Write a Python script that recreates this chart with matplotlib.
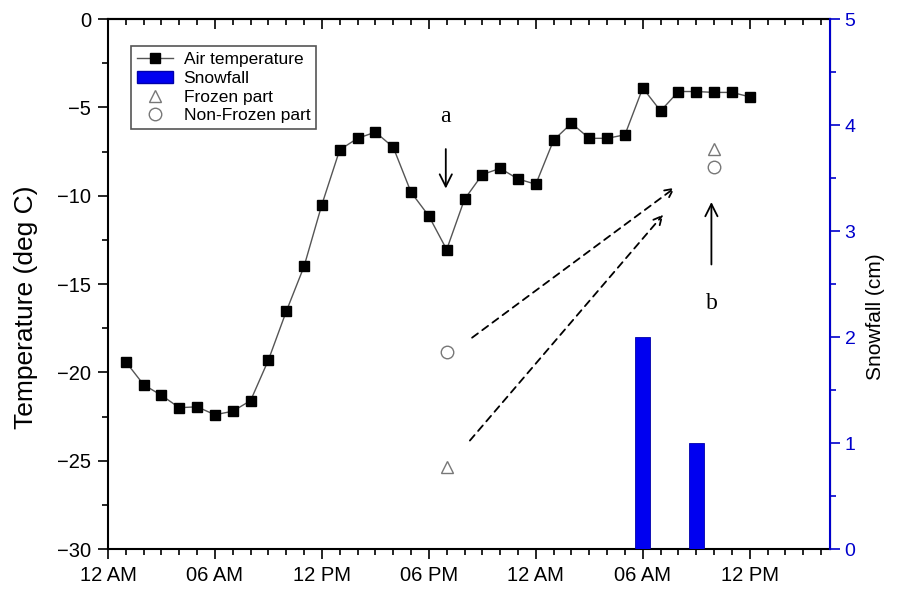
import matplotlib.pyplot as plt
from matplotlib.ticker import MultipleLocator
from matplotlib.lines import Line2D
from matplotlib.patches import Patch

plt.rcParams['font.family'] = ['Liberation Sans', 'DejaVu Sans']

# --- datos ---
horas = list(range(1, 37))
temp_aire = [-19.4, -20.7, -21.3, -22.0, -21.95, -22.4, -22.2, -21.6, -19.3, -16.55,
             -14.0, -10.5, -7.4, -6.75, -6.4, -7.25, -9.8, -11.15, -13.05, -10.2,
             -8.8, -8.45, -9.05, -9.35, -6.85, -5.9, -6.75, -6.75, -6.55, -3.9,
             -5.2, -4.1, -4.1, -4.15, -4.15, -4.4]

horas_nieve = [30, 33]
nieve = [2.0, 1.0]

horas_suelo = [19, 34]
congelada = [-25.35, -7.35]
no_congelada = [-18.85, -8.35]

xticks = [0, 6, 12, 18, 24, 30, 36]
xlabels = ['12 AM', '06 AM', '12 PM', '06 PM', '12 AM', '06 AM', '12 PM']

AZUL = '#0000cc'

fig = plt.figure(figsize=(8.99, 5.97), dpi=100)
ax = fig.add_axes([0.1201, 0.0804, 0.8031, 0.8876])
ax2 = ax.twinx()

ax.plot(horas, temp_aire, color='#555555', lw=1, marker='s', ms=7.5,
        mfc='black', mec='black', zorder=3)
ax.plot(horas_suelo, congelada, ls='none', marker='^', ms=8, mfc='white',
        mec='#777777', mew=1)
ax.plot(horas_suelo, no_congelada, ls='none', marker='o', ms=9, mfc='white',
        mec='#777777', mew=1)

ax2.bar(horas_nieve, nieve, width=0.82, color='#0000f0', edgecolor='#0000aa', lw=0.6)

ax.set_xlim(0, 40.5)
ax.set_ylim(-30, 0)
ax2.set_ylim(0, 5)

ax.set_xticks(xticks)
ax.set_xticklabels(xlabels)
ax.xaxis.set_minor_locator(MultipleLocator(1))
ax.yaxis.set_major_locator(MultipleLocator(5))
ax.yaxis.set_minor_locator(MultipleLocator(2.5))
ax2.yaxis.set_major_locator(MultipleLocator(1))
ax2.yaxis.set_minor_locator(MultipleLocator(0.5))

ax.tick_params(axis='both', which='major', labelsize=14.5, length=7, width=1.2,
               direction='out', pad=5)
ax.tick_params(axis='both', which='minor', length=4, width=1.2, direction='out')
ax.yaxis.set_tick_params(right=False)
ax2.tick_params(axis='y', which='major', labelsize=14, length=7, width=1.2,
                colors=AZUL, direction='out')
ax2.tick_params(axis='y', which='minor', length=4, width=1.2, colors=AZUL,
                direction='out')

# marcas hacia dentro en el borde superior
arriba = ax.secondary_xaxis('top')
arriba.set_xticks(xticks)
arriba.set_xticklabels([])
arriba.xaxis.set_minor_locator(MultipleLocator(1))
arriba.tick_params(which='major', direction='in', length=7, width=1.2)
arriba.tick_params(which='minor', direction='in', length=4, width=1.2)
arriba.spines['top'].set_linewidth(1.5)

for s in ['left', 'bottom', 'top']:
    ax.spines[s].set_linewidth(1.5)
ax2.spines['right'].set_color(AZUL)
ax2.spines['right'].set_linewidth(1.5)
for s in ['left', 'bottom', 'top']:
    ax2.spines[s].set_visible(False)

ax.set_ylabel('Temperature (deg C)', fontsize=19)
ax.yaxis.set_label_coords(-0.097, 0.457)
ax2.set_ylabel('Snowfall (cm)', fontsize=15)
ax2.yaxis.set_label_coords(1.05, 0.438)

# --- anotaciones ---
serif = ['Liberation Serif', 'DejaVu Serif']
ax.text(18.95, -5.5, 'a', fontsize=17, family=serif, ha='center', va='center')
ax.annotate('', xy=(18.95, -9.75), xytext=(18.95, -7.2),
            arrowprops=dict(arrowstyle='->', lw=1.3, color='black',
                            mutation_scale=22))
ax.text(33.85, -16.1, 'b', fontsize=17, family=serif, ha='center', va='center')
ax.annotate('', xy=(33.85, -10.2), xytext=(33.85, -14.05),
            arrowprops=dict(arrowstyle='->', lw=1.3, color='black',
                            mutation_scale=22))
ax.annotate('', xy=(31.93, -9.45), xytext=(20.3, -18.13),
            arrowprops=dict(arrowstyle='->', lw=1.3, ls=(0, (4, 3)), color='black',
                            mutation_scale=15))
ax.annotate('', xy=(31.25, -10.95), xytext=(20.2, -23.98),
            arrowprops=dict(arrowstyle='->', lw=1.3, ls=(0, (4, 3)), color='black',
                            mutation_scale=15))

handles = [
    Line2D([], [], color='#555555', lw=1, marker='s', ms=7, mfc='black', mec='black'),
    Patch(facecolor='#0000f0', edgecolor='#0000aa'),
    Line2D([], [], ls='none', marker='^', ms=8, mfc='white', mec='#777777'),
    Line2D([], [], ls='none', marker='o', ms=9, mfc='white', mec='#777777'),
]
labels = ['Air temperature', 'Snowfall', 'Frozen part', 'Non-Frozen part']
leg = ax2.legend(handles, labels, loc='upper left', bbox_to_anchor=(0.0314, 0.949),
                 fontsize=12.5, frameon=True, fancybox=False, edgecolor='#555555',
                 framealpha=1, borderaxespad=0, handlelength=2.1, labelspacing=0.2,
                 borderpad=0.35, handletextpad=0.6)
leg.get_frame().set_linewidth(1.2)

fig.savefig('out.png', dpi=100)
